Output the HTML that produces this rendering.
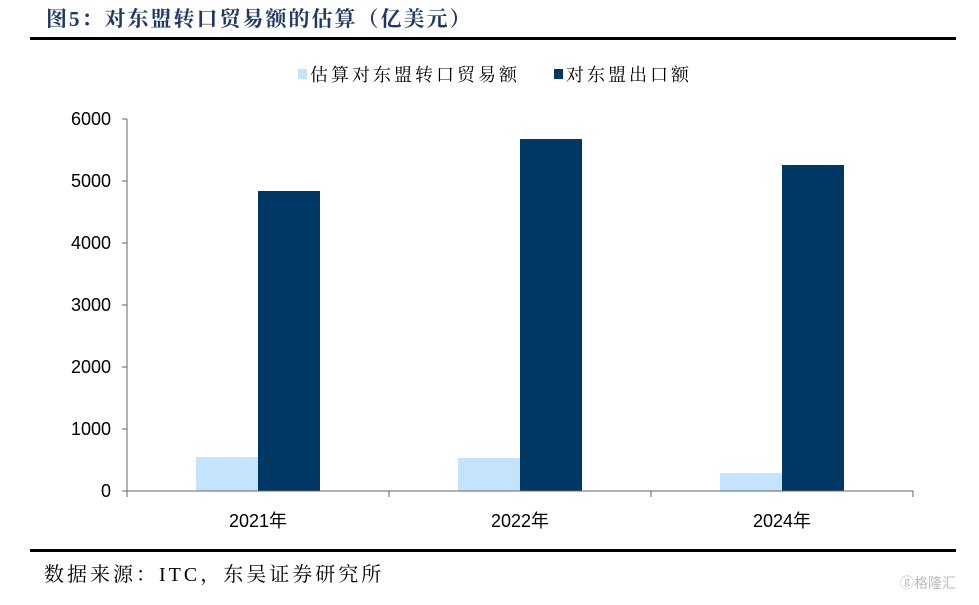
<!DOCTYPE html>
<html><head><meta charset="utf-8"><style>
body{margin:0;background:#fff;width:979px;height:600px;overflow:hidden;font-family:"Liberation Sans","Noto Sans CJK SC",sans-serif}
</style></head><body>
<svg width="979" height="600" xmlns="http://www.w3.org/2000/svg">
<text x="46" y="26" font-size="21" letter-spacing="2" font-weight="bold" fill="#1f3864" font-family="Liberation Serif,'Noto Serif CJK SC',serif">图5：对东盟转口贸易额的估算（亿美元）</text>
<rect x="30" y="37" width="926" height="3" fill="#000"/>
<g>
<rect x="298" y="69" width="9" height="10" fill="#c5e3fb"/>
<text x="310" y="81" font-size="18" letter-spacing="3" fill="#000" font-family="'Noto Serif CJK SC',serif">估算对东盟转口贸易额</text>
<rect x="554" y="69" width="9" height="10" fill="#003865"/>
<text x="566" y="81" font-size="18" letter-spacing="3" fill="#000" font-family="'Noto Serif CJK SC',serif">对东盟出口额</text>
</g>
<g id="plot"></g>
<rect x="30" y="549" width="926" height="3" fill="#000"/>
<text x="44" y="581" font-size="20" letter-spacing="3" fill="#000" font-family="Liberation Serif,'Noto Serif CJK SC',serif">数据来源：ITC，东吴证券研究所</text>
<text x="900" y="588" font-size="14" fill="#bbb">ⓖ格隆汇</text>
</svg>
<script>
const categories=["2021年","2022年","2024年"];
const transitValues=[548,532,290];
const exportValues=[4839,5677,5258];
const yTicks=[0,1000,2000,3000,4000,5000,6000];
const ns="http://www.w3.org/2000/svg";
const g=document.getElementById("plot");
const x0=127,x1=913,y0=491,yTop=119,yMax=6000;
const y=v=>y0-(v/yMax)*(y0-yTop);
const bw=(x1-x0)/categories.length;
function mk(t,a){const e=document.createElementNS(ns,t);for(const k in a)e.setAttribute(k,a[k]);g.appendChild(e);return e;}
yTicks.forEach(v=>{
 const l=mk("line",{x1:x0-5,x2:x0,y1:y(v),y2:y(v),stroke:"#666"});
 
 
 const t=mk("text",{x:x0-16,y:y(v)+6,"font-size":18,"text-anchor":"end",fill:"#000"});
 t.textContent=v;
 
 
});
categories.forEach((c,i)=>{
 const cx=x0+bw*(i+0.5);
 const a=mk("rect",{x:cx-62,y:y(transitValues[i]),width:62,height:y0-y(transitValues[i]),fill:"#c5e3fb"});
 
 
 const b=mk("rect",{x:cx,y:y(exportValues[i]),width:62,height:y0-y(exportValues[i]),fill:"#003865"});
 
 
 const t=mk("text",{x:cx,y:527,"font-size":18,"text-anchor":"middle",fill:"#000"});
 t.textContent=c;
 
 
 const tk=mk("line",{x1:x0+bw*(i+1),x2:x0+bw*(i+1),y1:y0,y2:y0+6,stroke:"#666"});
 
 
});
const ya=mk("line",{x1:x0,x2:x0,y1:yTop,y2:y0+6,stroke:"#666"});


const xa=mk("line",{x1:x0-5,x2:x1,y1:y0,y2:y0,stroke:"#666"});


</script>
</body></html>
